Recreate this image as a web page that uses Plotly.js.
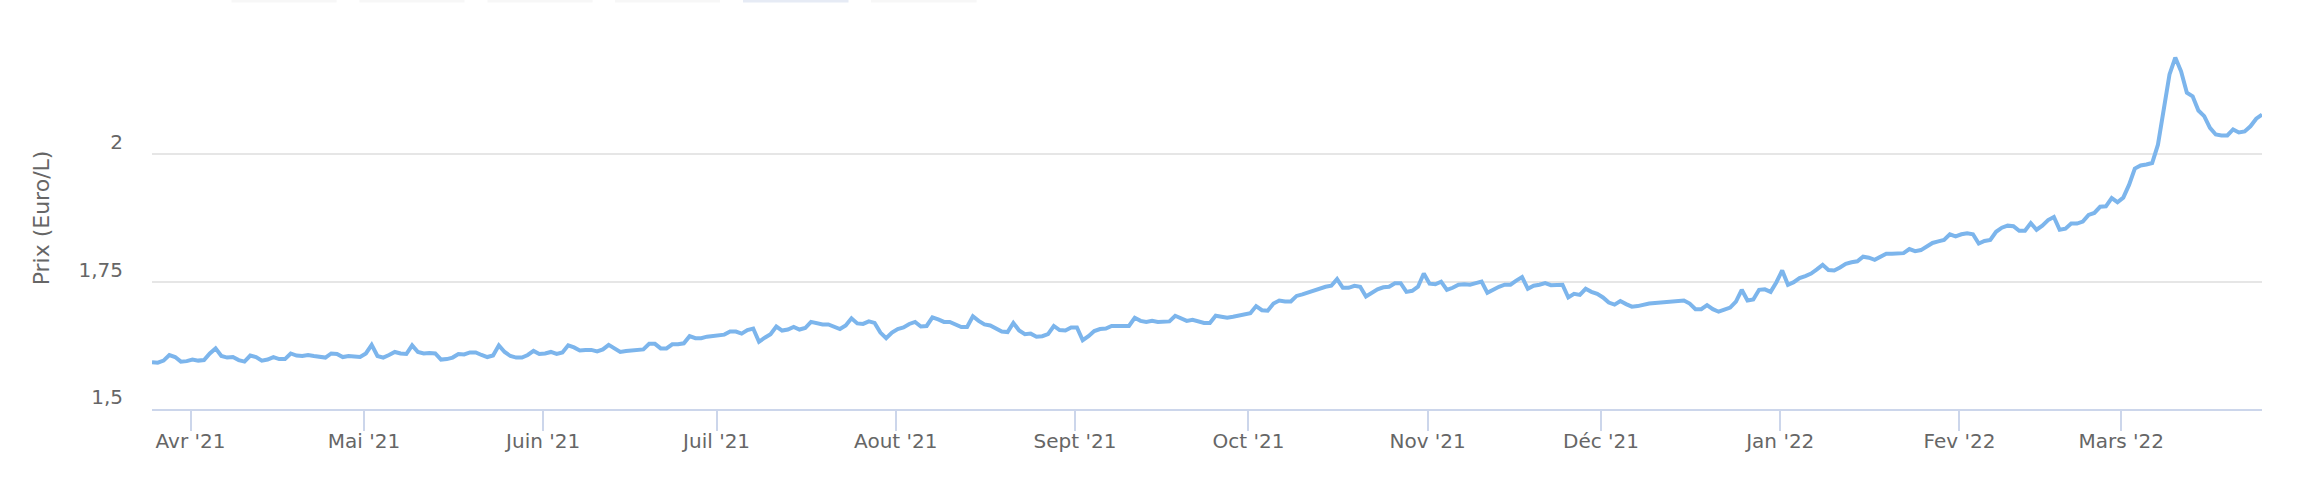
<!DOCTYPE html>
<html>
<head>
<meta charset="utf-8">
<script src="https://cdn.plot.ly/plotly-3.0.1.min.js"></script>
<style>
html, body { margin: 0; padding: 0; background: #ffffff; }
#chart { width: 2316px; height: 478px; }
</style>
</head>
<body>
<div id="chart"></div>
<script>
// Daily price (Euro/L), first day 2021-03-25, last day 2022-03-25
const startYear = 2021, startMonth = 3, startDay = 25;

const pricesMarMay21 = [1.592,1.591,1.595,1.606,1.602,1.593,1.594,1.597,1.595,1.596,
  1.609,1.619,1.604,1.601,1.602,1.596,1.593,1.605,1.602,1.595,
  1.597,1.602,1.598,1.598,1.609,1.605,1.604,1.606,1.604,1.602,
  1.601,1.609,1.608,1.602,1.604,1.603,1.602,1.609,1.626,1.604,
  1.601,1.606,1.612,1.609,1.608,1.625,1.612,1.609,1.610,1.609,
  1.597,1.598];
const pricesMayJul21 = [1.601,1.608,1.607,1.611,1.611,1.606,1.602,1.605,1.625,1.612,
  1.604,1.601,1.601,1.606,1.614,1.608,1.609,1.612,1.608,1.611,
  1.625,1.621,1.615,1.616,1.616,1.613,1.617,1.626,1.620,1.612,
  1.614,1.615,1.616,1.617,1.628,1.628,1.619,1.619,1.627,1.627,
  1.629,1.643,1.639,1.639,1.642,1.643,1.645,1.646,1.652,1.652];
const pricesJulAug21 = [1.648,1.655,1.658,1.632,1.640,1.647,1.662,1.654,1.656,1.661,
  1.656,1.659,1.671,1.668,1.666,1.666,1.661,1.657,1.664,1.678,
  1.668,1.667,1.672,1.669,1.650,1.639,1.650,1.657,1.660,1.667,
  1.671,1.662,1.663,1.680,1.676,1.671,1.671,1.666,1.661,1.661,
  1.682,1.673,1.666,1.664,1.659,1.652,1.651,1.669,1.654,1.647];
const pricesAugOct21 = [1.648,1.642,1.643,1.647,1.663,1.655,1.654,1.660,1.660,1.635,
  1.643,1.653,1.657,1.658,1.663,1.663,1.662,1.663,1.679,1.673,
  1.671,1.673,1.671,1.672,1.672,1.683,1.677,1.673,1.675,1.672,
  1.669,1.669,1.683,1.681,1.679,1.681,1.684,1.686,1.688,1.702,
  1.694,1.693,1.707,1.713,1.711,1.711,1.722,1.725,1.729,1.732];
const pricesOctDec21 = [1.736,1.740,1.742,1.755,1.738,1.738,1.742,1.740,1.721,1.728,
  1.735,1.739,1.740,1.747,1.747,1.730,1.732,1.740,1.766,1.746,
  1.745,1.750,1.734,1.738,1.744,1.745,1.744,1.747,1.750,1.728,
  1.735,1.740,1.744,1.744,1.752,1.759,1.736,1.742,1.744,1.747,
  1.743,1.744,1.744,1.719,1.726,1.724,1.736,1.730,1.726,1.719];
const pricesDecJan22 = [1.709,1.705,1.712,1.706,1.701,1.702,1.705,1.707,1.708,1.709,
  1.711,1.711,1.713,1.713,1.707,1.696,1.696,1.704,1.696,1.691,
  1.695,1.699,1.711,1.734,1.713,1.715,1.734,1.735,1.730,1.749,
  1.772,1.744,1.749,1.757,1.761,1.766,1.774,1.783,1.773,1.772,
  1.778,1.785,1.788,1.790,1.799,1.797,1.793,1.799,1.805,1.805];
const pricesJanMar22 = [1.806,1.806,1.814,1.810,1.812,1.818,1.826,1.829,1.832,1.843,
  1.839,1.843,1.845,1.843,1.825,1.830,1.832,1.848,1.856,1.860,
  1.859,1.850,1.850,1.865,1.852,1.860,1.871,1.877,1.852,1.854,
  1.864,1.864,1.868,1.881,1.885,1.897,1.898,1.914,1.906,1.915,
  1.940,1.972];
const pricesMar22 = [1.978,1.980,1.983,2.019,2.088,2.157,2.190,2.163,2.121,2.114,
  2.086,2.075,2.052,2.039,2.037,2.037,2.049,2.043,2.045,2.055,
  2.070,2.078];

const monthTicks = ['2021-04-01','2021-05-01','2021-06-01','2021-07-01','2021-08-01','2021-09-01',
  '2021-10-01','2021-11-01','2021-12-01','2022-01-01','2022-02-01','2022-03-01'];
const monthLabels = ["Avr '21","Mai '21","Juin '21","Juil '21","Aout '21","Sept '21",
  "Oct '21","Nov '21","Déc '21","Jan '22","Fev '22","Mars '22"];
const yTickValues = [1.5, 1.75, 2, 2.25];
const yTickLabels = ['1,5', '1,75', '2', ''];
const yTitle = 'Prix (Euro/L)';

const prices = [].concat(pricesMarMay21, pricesMayJul21, pricesJulAug21, pricesAugOct21,
  pricesOctDec21, pricesDecJan22, pricesJanMar22, pricesMar22);

// one date per value, consecutive days
const dates = prices.map((_, i) => {
  const d = new Date(Date.UTC(startYear, startMonth - 1, startDay + i));
  return d.toISOString().slice(0, 10) + ' 08:00';
});

const font = 'DejaVu Sans, Lucida Grande, sans-serif';

const trace = {
  type: 'scatter',
  mode: 'lines',
  x: dates,
  y: prices,
  line: { color: '#7cb5ec', width: 4 },
  hoverinfo: 'skip'
};

function btn(x0, x1, color) {
  return { type: 'rect', xref: 'paper', yref: 'paper', x0: x0, x1: x1, y0: 1.064, y1: 1.09,
    fillcolor: color, line: { width: 0 } };
}

const layout = {
  width: 2316,
  height: 478,
  margin: { l: 152, r: 54, t: 27, b: 69 },
  paper_bgcolor: '#ffffff',
  plot_bgcolor: '#ffffff',
  showlegend: false,
  hovermode: false,
  xaxis: {
    type: 'date',
    range: [dates[0], dates[dates.length - 1]],
    tickmode: 'array',
    tickvals: monthTicks,
    ticktext: monthLabels,
    ticks: 'outside',
    ticklen: 20,
    tickwidth: 2,
    tickcolor: '#ccd6eb',
    ticklabelstandoff: -7,
    showline: true,
    linecolor: '#ccd6eb',
    linewidth: 2,
    showgrid: false,
    zeroline: false,
    tickfont: { family: font, size: 20, color: '#666666' },
    fixedrange: true
  },
  yaxis: {
    range: [1.5, 2.25],
    tickmode: 'array',
    tickvals: yTickValues,
    ticktext: yTickLabels,
    showgrid: true,
    gridcolor: '#e6e6e6',
    gridwidth: 2,
    zeroline: false,
    showline: false,
    ticks: '',
    ticklabelshift: -12,
    ticklabelstandoff: 28,
    tickfont: { family: font, size: 20, color: '#666666' },
    title: { text: yTitle, font: { family: font, size: 22, color: '#666666' }, standoff: 22 },
    fixedrange: true
  },
  shapes: [
    btn(0.0377, 0.0875, '#f7f7f7'),
    btn(0.0983, 0.1481, '#f7f7f7'),
    btn(0.1590, 0.2088, '#f7f7f7'),
    btn(0.2194, 0.2692, '#f7f7f7'),
    btn(0.2801, 0.3301, '#e6ebf5'),
    btn(0.3408, 0.3908, '#f7f7f7')
  ]
};

Plotly.newPlot('chart', [trace], layout, { displayModeBar: false, staticPlot: true });
</script>
</body>
</html>
